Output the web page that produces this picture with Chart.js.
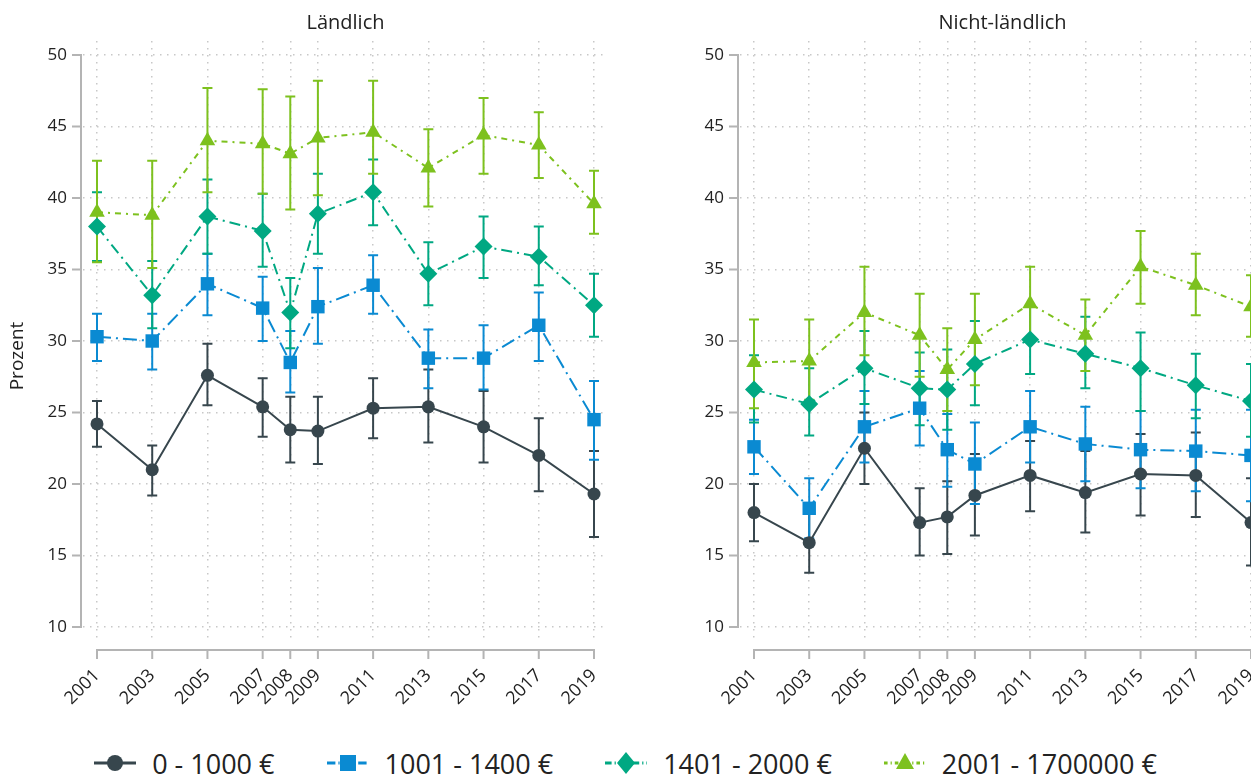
<!DOCTYPE html>
<html>
<head>
<meta charset="utf-8">
<script src="https://cdn.jsdelivr.net/npm/chart.js@4.4.1/dist/chart.umd.min.js"></script>
<style>
    html, body { margin: 0; padding: 0; background: #fff; overflow: hidden; }
    #wrap { position: relative; width: 1251px; height: 776px; overflow: hidden; }
    .panel { position: absolute; top: 0; width: 657px; height: 740px; }
    #legend {
        position: absolute; left: 0; top: 745px; width: 1251px; height: 36px;
        display: flex; justify-content: center; align-items: center; gap: 52px;
        font-family: 'Open Sans', sans-serif; font-size: 27px; color: #222;
    }
    .item { display: flex; align-items: center; gap: 16px; white-space: nowrap; }
</style>
</head>
<body>
<div id="wrap">
    <div class="panel" style="left:0"><canvas id="rural" width="657" height="740"></canvas></div>
    <div class="panel" style="left:657px"><canvas id="urban" width="657" height="740"></canvas></div>
    <div id="legend"></div>
</div>
<script>
// ---------------------------------------------------------
// DATA
// ---------------------------------------------------------
const years = [2001, 2003, 2005, 2007, 2008, 2009, 2011, 2013, 2015, 2017, 2019];
const yTicks = [10, 15, 20, 25, 30, 35, 40, 45, 50];
const seriesLabels = ['0 - 1000 €', '1001 - 1400 €', '1401 - 2000 €', '2001 - 1700000 €'];

// Ländlich
const ruralInc1 = [24.2, 21.0, 27.6, 25.4, 23.8, 23.7, 25.3, 25.4, 24.0, 22.0, 19.3];
const ruralInc1Lo = [22.6, 19.2, 25.5, 23.3, 21.5, 21.4, 23.2, 22.9, 21.5, 19.5, 16.3];
const ruralInc1Hi = [25.8, 22.7, 29.8, 27.4, 26.1, 26.1, 27.4, 28.0, 26.5, 24.6, 22.3];

const ruralInc2 = [30.3, 30.0, 34.0, 32.3, 28.5, 32.4, 33.9, 28.8, 28.8, 31.1, 24.5];
const ruralInc2Lo = [28.6, 28.0, 31.8, 30.0, 26.4, 29.8, 31.9, 26.7, 26.6, 28.6, 21.7];
const ruralInc2Hi = [31.9, 31.9, 36.1, 34.5, 30.7, 35.1, 36.0, 30.8, 31.1, 33.4, 27.2];

const ruralInc3 = [38.0, 33.2, 38.7, 37.7, 32.0, 38.9, 40.4, 34.7, 36.6, 35.9, 32.5];
const ruralInc3Lo = [35.6, 30.9, 36.1, 35.2, 29.5, 36.1, 38.1, 32.5, 34.4, 33.9, 30.3];
const ruralInc3Hi = [40.4, 35.6, 41.3, 40.3, 34.4, 41.7, 42.7, 36.9, 38.7, 38.0, 34.7];

const ruralInc4 = [39.0, 38.8, 44.0, 43.8, 43.1, 44.2, 44.6, 42.1, 44.4, 43.7, 39.6];
const ruralInc4Lo = [35.5, 35.1, 40.4, 40.3, 39.2, 40.2, 41.7, 39.4, 41.7, 41.4, 37.5];
const ruralInc4Hi = [42.6, 42.6, 47.7, 47.6, 47.1, 48.2, 48.2, 44.8, 47.0, 46.0, 41.9];

// Nicht-ländlich
const urbanInc1 = [18.0, 15.9, 22.5, 17.3, 17.7, 19.2, 20.6, 19.4, 20.7, 20.6, 17.3];
const urbanInc1Lo = [16.0, 13.8, 20.0, 15.0, 15.1, 16.4, 18.1, 16.6, 17.8, 17.7, 14.3];
const urbanInc1Hi = [20.0, 17.9, 25.0, 19.7, 20.2, 22.1, 23.0, 22.3, 23.5, 23.6, 20.4];

const urbanInc2 = [22.6, 18.3, 24.0, 25.3, 22.4, 21.4, 24.0, 22.8, 22.4, 22.3, 22.0];
const urbanInc2Lo = [20.7, 16.2, 21.5, 22.7, 19.8, 18.6, 21.5, 20.2, 19.7, 19.5, 18.8];
const urbanInc2Hi = [24.5, 20.4, 26.5, 27.9, 24.9, 24.3, 26.5, 25.4, 25.1, 25.2, 25.2];

const urbanInc3 = [26.6, 25.6, 28.1, 26.7, 26.6, 28.4, 30.1, 29.1, 28.1, 26.9, 25.8];
const urbanInc3Lo = [24.3, 23.4, 25.6, 24.1, 23.8, 25.5, 27.7, 26.7, 25.1, 24.6, 23.3];
const urbanInc3Hi = [29.0, 28.1, 30.7, 29.2, 29.4, 31.4, 32.4, 31.7, 30.6, 29.1, 28.4];

const urbanInc4 = [28.5, 28.6, 32.0, 30.4, 28.0, 30.1, 32.6, 30.4, 35.2, 33.9, 32.4];
const urbanInc4Lo = [25.3, 25.9, 29.0, 27.5, 25.1, 26.9, 30.1, 27.9, 32.6, 31.8, 30.3];
const urbanInc4Hi = [31.5, 31.5, 35.2, 33.3, 30.9, 33.3, 35.2, 32.9, 37.7, 36.1, 34.6];

// ---------------------------------------------------------
// STYLE
// ---------------------------------------------------------
const colors = ['#37464d', '#0a8ad2', '#00a882', '#7dc11e'];
const dashes = [[], [14, 5, 2, 5], [11, 5, 2, 5], [6, 5, 2, 5]];
const markers = ['circle', 'rect', 'rectRot', 'triangle'];
const radii = [6.5, 9.5, 9, 9];
const textColor = '#222';

Chart.defaults.font.family = "'Open Sans', sans-serif";
Chart.defaults.color = textColor;

// error bars (rcap) drawn through the chart's own scales
const makeErrorBars = (lows, highs) => ({
    id: 'errorBars',
    beforeDatasetsDraw(chart) {
        const { ctx, scales: { x, y } } = chart;
        ctx.save();
        ctx.lineWidth = 2;
        lows.forEach((lo, i) => {
            ctx.strokeStyle = colors[i];
            ctx.beginPath();
            years.forEach((yr, j) => {
                const px = x.getPixelForValue(yr);
                const top = y.getPixelForValue(highs[i][j]);
                const bot = y.getPixelForValue(lo[j]);
                ctx.moveTo(px, top); ctx.lineTo(px, bot);
                ctx.moveTo(px - 5, top); ctx.lineTo(px + 5, top);
                ctx.moveTo(px - 5, bot); ctx.lineTo(px + 5, bot);
            });
            ctx.stroke();
        });
        ctx.restore();
    }
});

// Stata-like axes: only span the data range, set off from the plot region
const stataAxes = {
    id: 'stataAxes',
    afterDraw(chart, args, opts) {
        const { ctx, chartArea, scales: { x, y } } = chart;
        ctx.save();
        ctx.strokeStyle = '#b4b4b4';
        ctx.lineWidth = 2;
        ctx.lineCap = 'square';
        ctx.beginPath();
        const ax = chartArea.left - 2;
        ctx.moveTo(ax, y.getPixelForValue(yTicks[0]));
        ctx.lineTo(ax, y.getPixelForValue(yTicks[yTicks.length - 1]));
        yTicks.forEach(v => {
            const py = y.getPixelForValue(v);
            ctx.moveTo(ax, py); ctx.lineTo(ax - 8, py);
        });
        const ay = chartArea.bottom + 9;
        ctx.moveTo(x.getPixelForValue(years[0]), ay);
        ctx.lineTo(x.getPixelForValue(years[years.length - 1]), ay);
        years.forEach(v => {
            const px = x.getPixelForValue(v);
            ctx.moveTo(px, ay); ctx.lineTo(px, ay + 8);
        });
        ctx.stroke();

        if (opts.yTitle) {
            ctx.translate(18, 356);
            ctx.rotate(-Math.PI / 2);
            ctx.fillStyle = textColor;
            ctx.font = "19px 'Open Sans', sans-serif";
            ctx.textAlign = 'center';
            ctx.textBaseline = 'middle';
            ctx.fillText(opts.yTitle, 0, 0);
        }
        ctx.restore();
    }
};

const makePanel = (canvasId, title, yTitle, means, lows, highs) => {
    const ctx = document.getElementById(canvasId);
    return new Chart(ctx, {
        type: 'line',
        data: {
            datasets: means.map((m, i) => ({
                label: seriesLabels[i],
                data: years.map((yr, j) => ({ x: yr, y: m[j] })),
                borderColor: colors[i],
                backgroundColor: colors[i],
                borderWidth: 2,
                borderDash: dashes[i],
                pointStyle: markers[i],
                pointRadius: radii[i],
                pointBorderWidth: 0,
                pointBackgroundColor: colors[i],
                tension: 0,
                fill: false
            }))
        },
        options: {
            responsive: false,
            animation: false,
            devicePixelRatio: 1,
            layout: { padding: { left: 0, right: 49, top: 0, bottom: 0 } },
            plugins: {
                legend: { display: false },
                tooltip: { enabled: false },
                title: {
                    display: true,
                    text: title,
                    fullSize: false,
                    color: textColor,
                    font: { size: 20, weight: 'normal' },
                    padding: { top: 11, bottom: 6 }
                },
                stataAxes: { yTitle: yTitle }
            },
            scales: {
                x: {
                    type: 'linear',
                    min: 2000.493,
                    max: 2019.507,
                    afterBuildTicks: s => { s.ticks = years.map(v => ({ value: v })); },
                    afterFit: s => { s.height = 99; },
                    ticks: {
                        autoSkip: false,
                        maxRotation: 45,
                        minRotation: 45,
                        padding: 24,
                        color: textColor,
                        font: { size: 18 },
                        callback: v => String(v)
                    },
                    grid: { color: '#c8c8c8', lineWidth: 1.5, drawTicks: false },
                    border: { display: false, dash: [1.5, 5.5] }
                },
                y: {
                    type: 'linear',
                    min: 9.021,
                    max: 50.979,
                    afterBuildTicks: s => { s.ticks = yTicks.map(v => ({ value: v })); },
                    afterFit: s => { s.width = 83; },
                    ticks: { padding: 16, color: textColor, font: { size: 17 } },
                    grid: { color: '#c8c8c8', lineWidth: 1.5, drawTicks: false },
                    border: { display: false, dash: [1.5, 5.5] }
                }
            }
        },
        plugins: [makeErrorBars(lows, highs), stataAxes]
    });
};

makePanel('rural', 'Ländlich', 'Prozent',
    [ruralInc1, ruralInc2, ruralInc3, ruralInc4],
    [ruralInc1Lo, ruralInc2Lo, ruralInc3Lo, ruralInc4Lo],
    [ruralInc1Hi, ruralInc2Hi, ruralInc3Hi, ruralInc4Hi]);

makePanel('urban', 'Nicht-ländlich', '',
    [urbanInc1, urbanInc2, urbanInc3, urbanInc4],
    [urbanInc1Lo, urbanInc2Lo, urbanInc3Lo, urbanInc4Lo],
    [urbanInc1Hi, urbanInc2Hi, urbanInc3Hi, urbanInc4Hi]);

// ---------------------------------------------------------
// LEGEND (manual, below both panels)
// ---------------------------------------------------------
const legendIcon = (i) => {
    const c = colors[i];
    const dash = dashes[i].length ? `stroke-dasharray="${dashes[i].map(d => d * 0.6).join(' ')}"` : '';
    let mark;
    if (markers[i] === 'circle') mark = `<circle cx="21" cy="12" r="8" fill="${c}"/>`;
    else if (markers[i] === 'rect') mark = `<rect x="13" y="4" width="16" height="16" fill="${c}"/>`;
    else if (markers[i] === 'rectRot') mark = `<polygon points="21,1 30,12 21,23 12,12" fill="${c}"/>`;
    else mark = `<polygon points="21,2 30,18 12,18" fill="${c}"/>`;
    return `<svg width="42" height="24" viewBox="0 0 42 24">
        <line x1="0" y1="12" x2="42" y2="12" stroke="${c}" stroke-width="3" ${dash}/>${mark}</svg>`;
};

document.getElementById('legend').innerHTML = seriesLabels.map((label, i) => `
    <div class="item">${legendIcon(i)}<span>${label}</span></div>
`).join('');
</script>
</body>
</html>
